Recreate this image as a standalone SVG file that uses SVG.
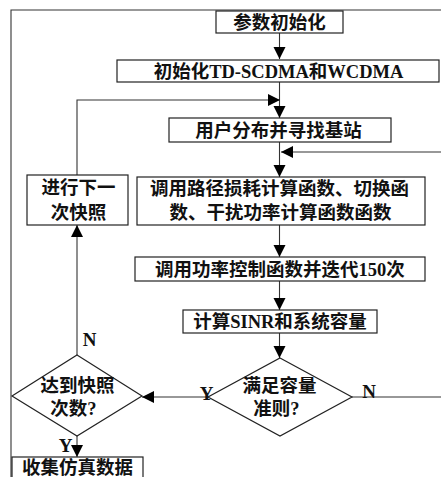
<svg xmlns="http://www.w3.org/2000/svg" width="441" height="477" viewBox="0 0 441 477">
<defs>
<style>
.box{fill:#fff;stroke:#222;stroke-width:1.2}
.ln{fill:none;stroke:#333;stroke-width:1.1}
.t{font-family:"Liberation Serif","Noto Sans CJK SC",serif;font-weight:bold;font-size:18.5px;fill:#111;text-anchor:middle}
.lb{font-family:"Liberation Serif",serif;font-weight:bold;font-size:19px;fill:#111;text-anchor:middle}
</style>
<marker id="ah" markerUnits="userSpaceOnUse" markerWidth="13" markerHeight="13" refX="12" refY="6" orient="auto">
<path d="M0,0 L12,6 L0,12 z" fill="#000"/>
</marker>
</defs>
<rect width="441" height="477" fill="#fff"/>
<g id="frame">
<path class="ln" d="M11,477 V10 H441"/>
</g>
<g id="connectors">
<path class="ln" d="M279.5,33 V59" marker-end="url(#ah)"/>
<path class="ln" d="M279.5,82 V118" marker-end="url(#ah)"/>
<path class="ln" d="M77,175 V100 H280" marker-end="url(#ah)"/>
<path class="ln" d="M279.5,142 V177" marker-end="url(#ah)"/>
<path class="ln" d="M441,152 H281" marker-end="url(#ah)"/>
<path class="ln" d="M279.5,225 V257" marker-end="url(#ah)"/>
<path class="ln" d="M279.5,281 V310" marker-end="url(#ah)"/>
<path class="ln" d="M279.5,333 V358" marker-end="url(#ah)"/>
<path class="ln" d="M208,397 H142" marker-end="url(#ah)"/>
<path class="ln" d="M352,397 H441"/>
<path class="ln" d="M77,355 V225" marker-end="url(#ah)"/>
<path class="ln" d="M77,436 V457" marker-end="url(#ah)"/>
</g>
<g id="n1"><rect class="box" x="216" y="11" width="127" height="22"/><text class="t" x="279.5" y="28.5">参数初始化</text></g>
<g id="n2"><rect class="box" x="117" y="60" width="322" height="22"/><text class="t" x="278.5" y="77.5">初始化TD-SCDMA和WCDMA</text></g>
<g id="n3"><rect class="box" x="169" y="118" width="222" height="24"/><text class="t" x="278.5" y="136.5">用户分布并寻找基站</text></g>
<g id="n4"><rect class="box" x="137" y="177" width="288" height="48"/><text class="t" x="279.5" y="194.5">调用路径损耗计算函数、切换函</text><text class="t" x="280.5" y="218.5">数、干扰功率计算函数函数</text></g>
<g id="n5"><rect class="box" x="135" y="257" width="290" height="24"/><text class="t" x="280" y="275.5">调用功率控制函数并迭代150次</text></g>
<g id="n6"><rect class="box" x="183" y="310" width="194" height="23"/><text class="t" x="280" y="327.5">计算SINR和系统容量</text></g>
<g id="n7"><path class="box" d="M280,358 L352,397 L280,436 L208,397 Z"/><text class="t" x="279.5" y="391.5">满足容量</text><text class="t" x="276.5" y="414.5">准则?</text></g>
<g id="n8"><path class="box" d="M77,355 L142,396 L77,436 L12,396 Z"/><text class="t" x="77.5" y="391.5">达到快照</text><text class="t" x="73.5" y="414.5">次数?</text></g>
<g id="n9"><rect class="box" x="27" y="175" width="101" height="50"/><text class="t" x="78.5" y="193.5">进行下一</text><text class="t" x="78.5" y="218.5">次快照</text></g>
<g id="n10"><rect class="box" x="12" y="457" width="131" height="26"/><text class="t" x="77.5" y="474">收集仿真数据</text></g>
<g id="labels">
<text class="lb" x="206.5" y="400">Y</text>
<text class="lb" x="369" y="398">N</text>
<text class="lb" x="89.5" y="346">N</text>
<text class="lb" x="65.5" y="452">Y</text>
</g>
</svg>
